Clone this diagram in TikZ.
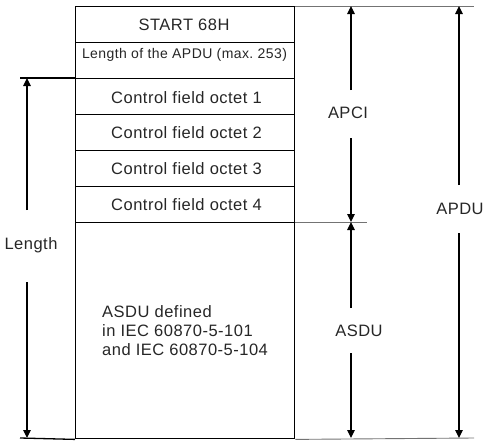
\documentclass[tikz,border=0pt]{standalone}
\usepackage{fontspec}
\setmainfont{Liberation Sans}
\newfontfamily\widesans[LetterSpace=3]{Liberation Sans}
\usetikzlibrary{arrows.meta}
\begin{document}
\begin{tikzpicture}[x=1pt,y=-1pt,
  cell/.style={draw=black,line width=1.4pt,minimum width=219pt,inner sep=0pt,anchor=north west},
  lbl/.style={font=\widesans\fontsize{16.5}{19}\selectfont,text=black!85,inner sep=0pt},
  ext/.style={draw=black!55,line width=0.9pt},
  dim/.style={draw=black,line width=1.1pt,-{Triangle[length=8pt,width=7.5pt]}}]
\useasboundingbox (0,0) rectangle (496,445);
% cells
\node[cell,minimum height=36pt] (c0) at (75,6) {};
\node[cell,minimum height=36pt] (c1) at (75,42) {};
\node[cell,minimum height=36pt] (c2) at (75,78) {};
\node[cell,minimum height=36pt] (c3) at (75,114) {};
\node[cell,minimum height=36pt] (c4) at (75,150) {};
\node[cell,minimum height=36pt] (c5) at (75,186) {};
\node[cell,minimum height=216pt] (c6) at (75,222) {};
% cell texts
\node[lbl] (t0) at (184,25) {START 68H};
\node[lbl,font=\widesans\fontsize{14}{17}\selectfont] (t1) at (184.5,55) {Length of the APDU (max.\ 253)};
\node[lbl] (t2) at (186.5,98) {Control field octet 1};
\node[lbl] (t3) at (186.5,133) {Control field octet 2};
\node[lbl] (t4) at (186.5,169) {Control field octet 3};
\node[lbl] (t5) at (186.5,205) {Control field octet 4};
\node[lbl,align=left,anchor=west] (t6) at (102,331) {ASDU defined\\in IEC 60870-5-101\\and IEC 60870-5-104};
% extension lines
\coordinate (topR) at (474,6);
\coordinate (lenL) at (20,78);
\coordinate (botL) at (20,438);
\coordinate (botR) at (474,438);
\coordinate (midR) at (367,222);
\draw[ext] (c0.north east) -- (topR);
\draw[black,line width=1.1pt] (lenL) -- (c2.north west);
\draw[ext] (c6.south east) -- (botR);
\draw[black,line width=1.3pt] (botL) -- (c6.south west);
\draw[ext] (c6.north east) -- (midR);
% dimension labels
\node[lbl] (apci) at (348,113) {APCI};
\node[lbl] (asdu) at (359,331) {ASDU};
\node[lbl] (apdu) at (460,209) {APDU};
\node[lbl] (len) at (31,245) {Length};
% arrow end coordinates
\coordinate (a1) at (351,90);  \coordinate (a1e) at (351,6);
\coordinate (a2) at (351,138); \coordinate (a2e) at (351,222);
\coordinate (s1) at (351,308); \coordinate (s1e) at (351,222);
\coordinate (s2) at (351,353); \coordinate (s2e) at (351,438);
\coordinate (p1) at (459,185); \coordinate (p1e) at (459,6);
\coordinate (p2) at (459,233); \coordinate (p2e) at (459,438);
\coordinate (l1) at (27,210);  \coordinate (l1e) at (27,78);
\coordinate (l2) at (27,282);  \coordinate (l2e) at (27,438);
\draw[dim] (a1) -- (a1e);
\draw[dim] (a2) -- (a2e);
\draw[dim] (s1) -- (s1e);
\draw[dim] (s2) -- (s2e);
\draw[dim] (p1) -- (p1e);
\draw[dim] (p2) -- (p2e);
\draw[dim] (l1) -- (l1e);
\draw[dim] (l2) -- (l2e);
\end{tikzpicture}
\end{document}
